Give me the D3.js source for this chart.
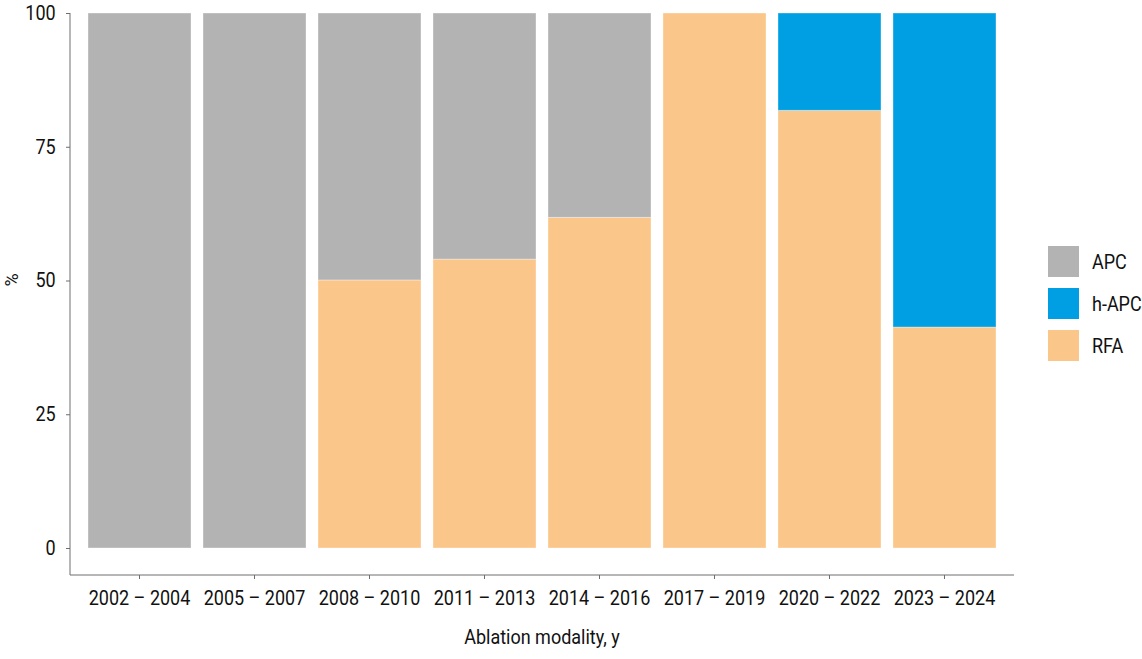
<!DOCTYPE html>
<html>
<head>
<meta charset="utf-8">
<script src="https://cdn.jsdelivr.net/npm/d3@7"></script>
<style>
  body { margin: 0; background: #fff; }
  svg text { font-family: "Roboto", "Liberation Sans", sans-serif; fill: #111; }
</style>
</head>
<body>
<svg id="chart" width="1142" height="659"></svg>
<script>
const categories = ["2002 \u2013 2004", "2005 \u2013 2007", "2008 \u2013 2010", "2011 \u2013 2013", "2014 \u2013 2016", "2017 \u2013 2019", "2020 \u2013 2022", "2023 \u2013 2024"];
const seriesNames = ["RFA", "h-APC", "APC"];
const rfa  = [0, 0, 50.1, 54.0, 61.8, 100, 81.8, 41.3];
const hapc = [0, 0, 0, 0, 0, 0, 18.2, 58.7];
const apc  = [100, 100, 49.9, 46.0, 38.2, 0, 0, 0];
const yTicks = [0, 25, 50, 75, 100];
const legendOrder = ["APC", "h-APC", "RFA"];
const colors = { "APC": "#b3b3b3", "h-APC": "#009fe3", "RFA": "#fbc68a" };
const xTitle = "Ablation modality, y";
const yTitle = "%";

const SX = 0.9; // condensed look
const FS = 20;
const rows = categories.map((c, i) => ({ cat: c, "RFA": rfa[i], "h-APC": hapc[i], "APC": apc[i] }));
const stacked = d3.stack().keys(seriesNames)(rows);

const svg = d3.select("#chart");
const x = d3.scaleBand().domain(categories).range([70, 1014]).paddingInner(0.1043).paddingOuter(0.1566);
const y = d3.scaleLinear().domain([0, 100]).range([548, 13]);

svg.append("g").selectAll("g").data(stacked).join("g")
  .attr("fill", d => colors[d.key])
  .selectAll("rect").data(d => d.filter(p => p[1] - p[0] > 0)).join("rect")
  .attr("x", d => x(d.data.cat))
  .attr("width", x.bandwidth())
  .attr("y", d => y(d[1]))
  .attr("height", d => y(d[0]) - y(d[1]))
  .attr("stroke", "#ffffff")
  .attr("stroke-opacity", 0.35)
  .attr("stroke-width", 1);

// Y axis
const yAxis = svg.append("g").attr("transform", "translate(70,0)")
  .call(d3.axisLeft(y).tickValues(yTicks).tickSize(4).tickPadding(12).tickFormat(d3.format("d")));
yAxis.select(".domain").attr("d", "M0,13V575").attr("stroke", "#6e6e6e");
yAxis.selectAll(".tick line").attr("stroke", "#6e6e6e");
yAxis.selectAll("text").attr("font-size", FS).attr("transform", `scale(${SX},1)`);

// X axis
const xAxis = svg.append("g").attr("transform", "translate(0,575)")
  .call(d3.axisBottom(x).tickSize(4).tickPadding(12).tickSizeOuter(0));
xAxis.select(".domain").attr("d", "M70,0H1014").attr("stroke", "#6e6e6e");
xAxis.selectAll(".tick line").attr("stroke", "#6e6e6e");
xAxis.selectAll("text").attr("font-size", FS).attr("transform", `scale(${SX},1)`);

svg.append("text").attr("transform", `translate(542,644) scale(${SX},1)`).attr("text-anchor", "middle")
  .attr("font-size", FS).text(xTitle);
svg.append("text").attr("transform", "translate(18,280) rotate(-90)").attr("text-anchor", "middle")
  .attr("font-size", 18).text(yTitle);

// Legend
const leg = svg.append("g").attr("transform", "translate(1048,246)");
legendOrder.forEach((k, i) => {
  const g = leg.append("g").attr("transform", `translate(0,${i * 42})`);
  g.append("rect").attr("width", 31).attr("height", 31).attr("fill", colors[k]);
  g.append("text").attr("transform", `translate(44,16) scale(${SX},1)`).attr("dy", "0.35em").attr("font-size", FS).text(k);
});
</script>
</body>
</html>
